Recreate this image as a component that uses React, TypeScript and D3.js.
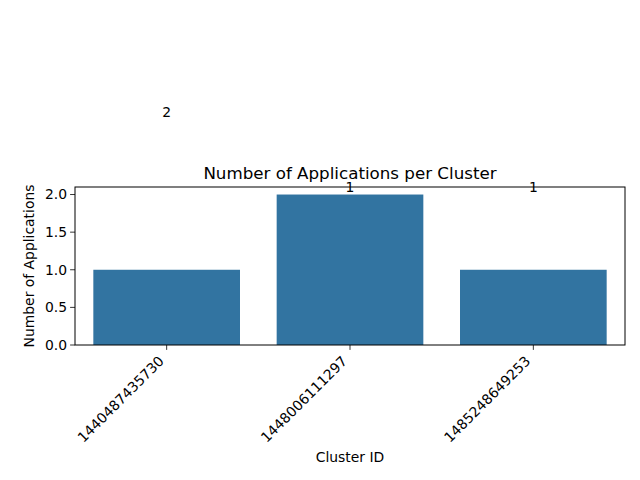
import React from "react";
import * as d3 from "d3";

const categories = ["1440487435730", "1448006111297", "1485248649253"];
const values = [1, 2, 1];
const annotationTexts = ["2", "1", "1"];
const annotationValues = [3, 2, 2];
const yTicks = [0, 0.5, 1, 1.5, 2];

const W = 640, H = 480;
const left = 75, right = 625, top = 187, bottom = 345;
const font = "DejaVu Sans, sans-serif";

export default function App() {
  const x = d3.scaleBand<string>().domain(categories).range([left, right]).paddingInner(0.2).paddingOuter(0.1);
  const xc = d3.scaleBand<string>().domain(categories).range([left, right]);
  const y = d3.scaleLinear().domain([0, 2.1]).range([bottom, top]);
  const color = "#3274a1";
  return (
    <svg width={W} height={H} style={{ position: "absolute", left: 0, top: 0, background: "#fff" }} fontFamily={font}>
      <rect x={0} y={0} width={W} height={H} fill="#fff" />
      {categories.map((c, i) => (
        <rect key={c} x={x(c)!} y={y(values[i])} width={x.bandwidth()} height={bottom - y(values[i])} fill={color} />
      ))}
      <rect x={left} y={top} width={right - left} height={bottom - top} fill="none" stroke="#000" strokeWidth={1} />
      {yTicks.map((t) => (
        <g key={t}>
          <line x1={left - 4.9} x2={left} y1={y(t)} y2={y(t)} stroke="#000" strokeWidth={0.8} />
          <text x={left - 8} y={y(t)} dy="0.35em" textAnchor="end" fontSize={13.9}>{t.toFixed(1)}</text>
        </g>
      ))}
      {categories.map((c) => {
        const cx = xc(c)! + xc.bandwidth() / 2;
        return (
          <g key={c}>
            <line x1={cx} x2={cx} y1={bottom} y2={bottom + 4.9} stroke="#000" strokeWidth={0.8} />
            <text transform={`translate(${cx - 2},${bottom + 17}) rotate(-45)`} textAnchor="end" fontSize={13.9}>{c}</text>
          </g>
        );
      })}
      {categories.map((c, i) => {
        const cx = xc(c)! + xc.bandwidth() / 2;
        return (
          <text key={"a" + i} x={cx} y={y(annotationValues[i]) - 7} dy="0.35em" textAnchor="middle" fontSize={13.9}>{annotationTexts[i]}</text>
        );
      })}
      <text x={(left + right) / 2} y={top - 8} textAnchor="middle" fontSize={16.7}>Number of Applications per Cluster</text>
      <text x={(left + right) / 2} y={462} textAnchor="middle" fontSize={13.9}>Cluster ID</text>
      <text transform={`translate(34,${(top + bottom) / 2}) rotate(-90)`} textAnchor="middle" fontSize={13.9}>Number of Applications</text>
    </svg>
  );
}
